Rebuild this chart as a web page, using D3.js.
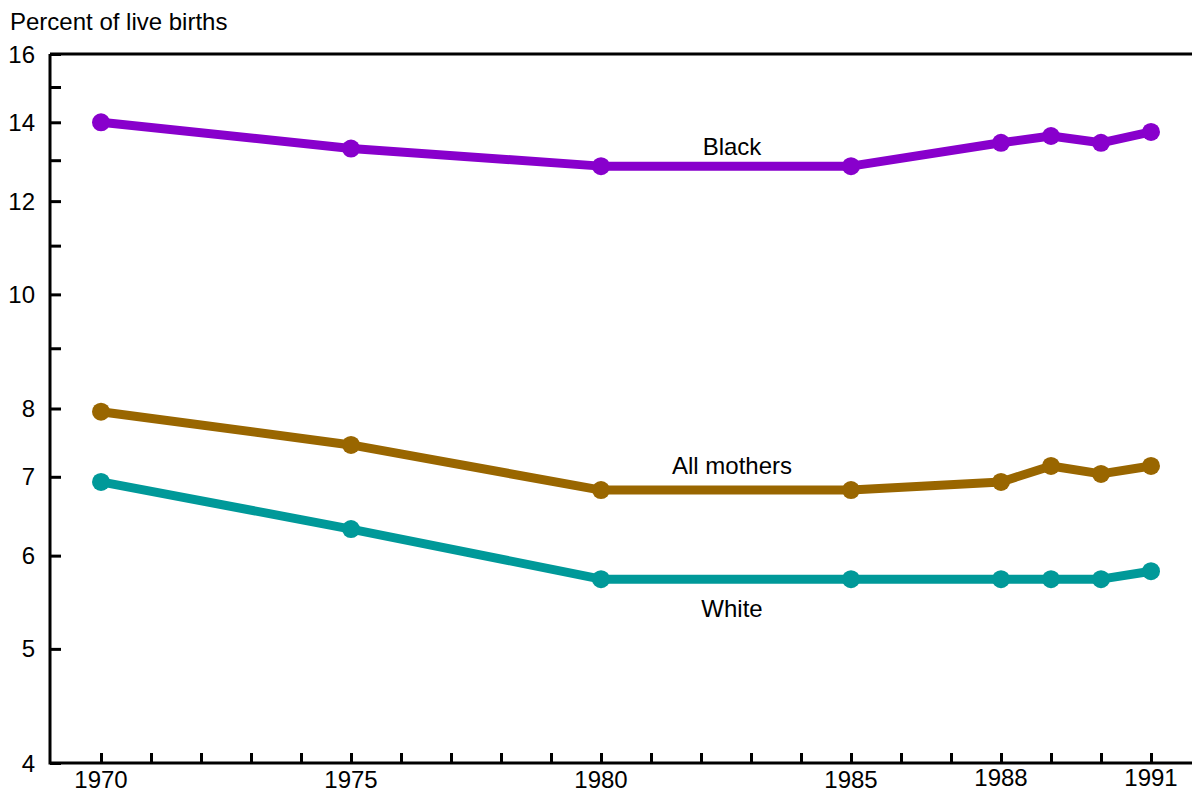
<!DOCTYPE html>
<html><head><meta charset="utf-8">
<script src="https://cdn.jsdelivr.net/npm/d3@7"></script>
<style>body{margin:0;background:#fff;}text{font-family:"Liberation Sans",Arial,sans-serif;}</style>
</head><body><svg id="c" width="1192" height="794"></svg>
<script>
const years = [1970, 1975, 1980, 1985, 1988, 1989, 1990, 1991];
const black = [14.0, 13.3, 12.85, 12.85, 13.45, 13.63, 13.45, 13.74];
const allMothers = [7.95, 7.45, 6.82, 6.82, 6.93, 7.15, 7.04, 7.15];
const white = [6.93, 6.32, 5.73, 5.73, 5.73, 5.73, 5.73, 5.82];
const yTickLabels = [4, 5, 6, 7, 8, 10, 12, 14, 16];
const yMinorTicks = [9, 11, 13, 15];
const xTickLabels = [1970, 1975, 1980, 1985, 1988, 1991];
const seriesNames = ["Black", "All mothers", "White"];
const seriesColors = ["#8800CC", "#996600", "#009999"];

const svg = d3.select("#c");
const x = d3.scaleLinear().domain([1970, 1991]).range([101, 1151]);
const y = d3.scaleLog().base(2).domain([4, 16]).range([763, 54]);

svg.append("line").attr("x1", 50).attr("x2", 1192).attr("y1", 54).attr("y2", 54).attr("stroke", "#000").attr("stroke-width", 3);

const xAxis = d3.axisBottom(x).tickValues(d3.range(1970, 1992)).tickSize(-10).tickFormat("");
svg.append("g").attr("transform", "translate(0,763)").call(xAxis)
  .call(g => g.select(".domain").attr("d", "M50,0H1192").attr("stroke-width", 3))
  .call(g => g.selectAll(".tick line").attr("stroke-width", 3));

svg.append("g").selectAll("text").data(xTickLabels).join("text")
  .attr("x", d => x(d)).attr("y", d => (d >= 1988 ? 786 : 788))
  .attr("text-anchor", "middle").attr("font-size", 24).text(d => d);

const yAxis = d3.axisLeft(y).tickValues(yTickLabels.concat(yMinorTicks)).tickSize(-11).tickFormat("");
svg.append("g").attr("transform", "translate(50,0)").call(yAxis)
  .call(g => g.select(".domain").attr("d", "M0,54V764.5").attr("stroke-width", 3))
  .call(g => g.selectAll(".tick line").attr("stroke-width", 3));

svg.append("g").selectAll("text").data(yTickLabels).join("text")
  .attr("x", 35).attr("y", d => y(d) + 8.5)
  .attr("text-anchor", "end").attr("font-size", 24).text(d => d);

svg.append("text").attr("x", 10).attr("y", 30).attr("font-size", 24).text("Percent of live births");

const series = [black, allMothers, white];
const line = d3.line().x((d, i) => x(years[i])).y(d => y(d));
series.forEach((s, k) => {
  svg.append("path").datum(s).attr("d", line).attr("fill", "none")
    .attr("stroke", seriesColors[k]).attr("stroke-width", 9).attr("stroke-linejoin", "round");
  svg.append("g").selectAll("circle").data(s).join("circle")
    .attr("cx", (d, i) => x(years[i])).attr("cy", d => y(d)).attr("r", 9)
    .attr("fill", seriesColors[k]);
});

const labelPos = [[732, 155], [732, 474], [732, 617]];
seriesNames.forEach((n, k) => {
  svg.append("text").attr("x", labelPos[k][0]).attr("y", labelPos[k][1])
    .attr("text-anchor", "middle").attr("font-size", 24).text(n);
});
</script></body></html>
